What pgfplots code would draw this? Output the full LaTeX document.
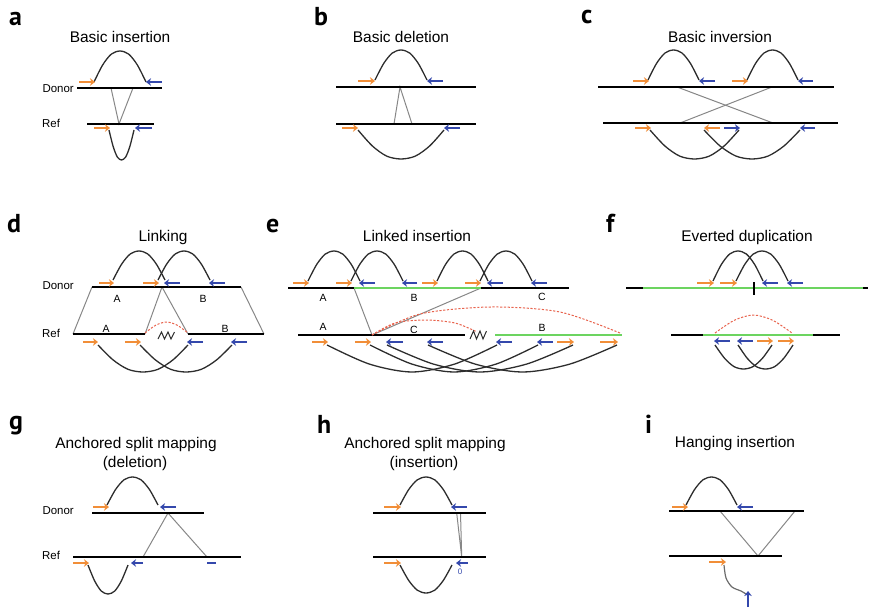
\documentclass[border=0pt]{standalone}
\usepackage{pgfplots}
\pgfplotsset{compat=1.18}
\usetikzlibrary{arrows.meta}
\usepackage{fontspec}
\setmainfont{Liberation Sans}
\newfontfamily\panelfont{PT Sans}
\definecolor{orgC}{RGB}{241,142,56}
\definecolor{bluC}{RGB}{52,72,172}
\definecolor{grayC}{RGB}{135,135,135}
\definecolor{arcC}{RGB}{45,45,45}
\definecolor{grnC}{RGB}{108,212,96}
\definecolor{redC}{RGB}{232,100,78}
\pgfplotsset{
 dna/.style={black, line width=2.6bp},
 grn/.style={grnC, line width=2.6bp},
 arc/.style={arcC, line width=1.3bp, smooth},
 gl/.style={grayC, line width=1bp},
 oa/.style={orgC, line width=2bp, -{Stealth[length=5bp,width=7.5bp,inset=1.5bp]}},
 ba/.style={bluC, line width=2bp, -{Stealth[length=5bp,width=7.5bp,inset=1.5bp]}},
 rd/.style={redC, line width=1bp, smooth, dash pattern=on 2.2bp off 1.6bp},
 zz/.style={arcC, line width=1bp},
}
\newcommand{\ttl}[3]{\node[font=\fontsize{15.5}{18}\selectfont, anchor=base] at (axis cs:#1,#2) {#3};}
\newcommand{\pl}[3]{\node[font=\panelfont\bfseries\fontsize{26}{28}\selectfont, anchor=base west, inner sep=0pt] at (axis cs:#1,#2) {#3};}
\newcommand{\lab}[3]{\node[font=\fontsize{10.5}{12}\selectfont, anchor=base, inner sep=0pt] at (axis cs:#1,#2) {#3};}
\begin{document}
\begin{tikzpicture}
\begin{axis}[width=870bp, height=611bp, scale only axis, xmin=0, xmax=870, ymin=0, ymax=611, y dir=reverse, hide axis, clip=false]
\addplot[draw=none] coordinates {(0,0) (870,611)};
% ---------- panel letters
\pl{9}{26}{a}
\pl{314}{26}{b}
\pl{581}{24}{c}
\pl{7}{232}{d}
\pl{266}{232}{e}
\pl{606}{232}{f}
\pl{9}{429}{g}
\pl{317}{433}{h}
\pl{645}{433}{i}
% ---------- titles
\ttl{120}{43}{Basic insertion}
\ttl{401}{43}{Basic deletion}
\ttl{720}{43}{Basic inversion}
\ttl{163}{241}{Linking}
\ttl{417}{241}{Linked insertion}
\ttl{747}{241}{Everted duplication}
\ttl{136}{448}{Anchored split mapping}
\ttl{135}{467}{(deletion)}
\ttl{425}{448}{Anchored split mapping}
\ttl{424}{467}{(insertion)}
\ttl{735}{447}{Hanging insertion}
% ---------- Donor / Ref labels
\node[font=\fontsize{11.5}{13}\selectfont, anchor=base east, inner sep=0pt] at (axis cs:74,92) {Donor};
\node[font=\fontsize{11.5}{13}\selectfont, anchor=base west, inner sep=0pt] at (axis cs:42,127) {Ref};
\node[font=\fontsize{11.5}{13}\selectfont, anchor=base east, inner sep=0pt] at (axis cs:74,289) {Donor};
\node[font=\fontsize{11.5}{13}\selectfont, anchor=base west, inner sep=0pt] at (axis cs:42,337) {Ref};
\node[font=\fontsize{11.5}{13}\selectfont, anchor=base east, inner sep=0pt] at (axis cs:74,514) {Donor};
\node[font=\fontsize{11.5}{13}\selectfont, anchor=base west, inner sep=0pt] at (axis cs:42,559) {Ref};
% ================= panel a
\addplot[gl] coordinates {(111,88) (119,124) (133,88)};
\addplot[dna] coordinates {(77,88) (162,88)};
\addplot[dna] coordinates {(87,124) (154,124)};
\addplot[arc] coordinates {(94,82) (102.67,64.95) (111.33,54.1) (120,51) (128.67,54.1) (137.33,64.95) (146,82)};
\addplot[arc] coordinates {(109,130) (113.17,146.5) (117.33,157) (121.5,160) (125.67,157) (129.83,146.5) (134,130)};
\addplot[oa] coordinates {(79,82) (95,82)};
\addplot[ba] coordinates {(162,82) (146,82)};
\addplot[oa] coordinates {(94,128) (110,128)};
\addplot[ba] coordinates {(152,128) (135,128)};
% ================= panel b
\addplot[gl] coordinates {(394,124) (400,87) (412,124)};
\addplot[dna] coordinates {(336,87) (476,87)};
\addplot[dna] coordinates {(336,124) (476,124)};
\addplot[arc] coordinates {(375,80) (383.67,63.5) (392.33,53) (401,50) (409.67,53) (418.33,63.5) (427,80)};
\addplot[arc] coordinates {(358,130) (372.33,145.95) (386.67,156.1) (401,159) (415.33,156.1) (429.67,145.95) (444,130)};
\addplot[oa] coordinates {(358,81) (375,81)};
\addplot[ba] coordinates {(443,81) (427,81)};
\addplot[oa] coordinates {(342,128) (358,128)};
\addplot[ba] coordinates {(460,128) (444,128)};
% ================= panel c
\addplot[gl] coordinates {(677,87) (773,123)};
\addplot[gl] coordinates {(772,87) (680,123)};
\addplot[dna] coordinates {(598,87) (834,87)};
\addplot[dna] coordinates {(603,123) (838,123)};
\addplot[arc] coordinates {(648,80) (656.5,63.5) (665,53) (673.5,50) (682,53) (690.5,63.5) (699,80)};
\addplot[arc] coordinates {(747,80) (755.5,63.5) (764,53) (772.5,50) (781,53) (789.5,63.5) (798,80)};
\addplot[arc] coordinates {(650,130) (664.83,145.95) (679.67,156.1) (694.5,159) (709.33,156.1) (724.17,145.95) (739,130)};
\addplot[arc] coordinates {(704,130) (720,145.95) (736,156.1) (752,159) (768,156.1) (784,145.95) (800,130)};
\addplot[oa] coordinates {(633,81) (649,81)};
\addplot[ba] coordinates {(715,81) (699,81)};
\addplot[oa] coordinates {(732,81) (748,81)};
\addplot[ba] coordinates {(813,81) (798,81)};
\addplot[oa] coordinates {(635,128) (651,128)};
\addplot[oa] coordinates {(720,128) (704,128)};
\addplot[ba] coordinates {(724,128) (740,128)};
\addplot[ba] coordinates {(815,128) (800,128)};
% ================= panel d
\addplot[gl] coordinates {(92,287) (73,334)};
\addplot[gl] coordinates {(145,334) (162,287) (188,334)};
\addplot[gl] coordinates {(241,287) (264,334)};
\addplot[dna] coordinates {(92,287) (241,287)};
\addplot[dna] coordinates {(73,334) (145,334)};
\addplot[dna] coordinates {(188,334) (264,334)};
\addplot[rd] coordinates {(145,333) (155.75,325.2) (166.5,322) (177.25,325.2) (188,333)};
\addplot[zz] coordinates {(158,339) (161.5,332) (164.5,339) (168,332) (171,339) (174.5,332)};
\addplot[arc] coordinates {(113,280) (121.67,264.05) (130.33,253.9) (139,251) (147.67,253.9) (156.33,264.05) (165,280)};
\addplot[arc] coordinates {(158,280) (166.67,264.05) (175.33,253.9) (184,251) (192.67,253.9) (201.33,264.05) (210,280)};
\addplot[arc] coordinates {(98,345) (113,359.85) (128,369.3) (143,372) (158,369.3) (173,359.85) (188,345)};
\addplot[arc] coordinates {(140,345) (155.33,359.85) (170.67,369.3) (186,372) (201.33,369.3) (216.67,359.85) (232,345)};
\addplot[oa] coordinates {(99,283) (114,283)};
\addplot[oa] coordinates {(143,283) (159,283)};
\addplot[ba] coordinates {(180,283) (164,283)};
\addplot[ba] coordinates {(225,283) (209,283)};
\addplot[oa] coordinates {(83,342) (98,342)};
\addplot[oa] coordinates {(125,342) (141,342)};
\addplot[ba] coordinates {(203,342) (187,342)};
\addplot[ba] coordinates {(247,342) (231,342)};
\lab{117}{302}{A}
\lab{203}{302}{B}
\lab{106}{332}{A}
\lab{225}{332}{B}
% ================= panel e
\addplot[gl] coordinates {(354,288) (372,335) (481,288)};
\addplot[dna] coordinates {(288,288) (569,288)};
\addplot[grn] coordinates {(354,288) (481,288)};
\addplot[dna] coordinates {(298,335) (465,335)};
\addplot[grn] coordinates {(495,335) (622,335)};
\addplot[rd] coordinates {(372,335) (395,323) (425,320) (455,323) (477,332)};
\addplot[rd] coordinates {(372,335) (420,314) (490,307) (560,312) (620,333)};
\addplot[zz] coordinates {(470,339) (473.5,331) (476.5,339) (480,331) (483,339) (486.5,331)};
\addplot[arc] coordinates {(308,281) (316.67,264.5) (325.33,254) (334,251) (342.67,254) (351.33,264.5) (360,281)};
\addplot[arc] coordinates {(351,281) (359.67,264.5) (368.33,254) (377,251) (385.67,254) (394.33,264.5) (403,281)};
\addplot[arc] coordinates {(437,281) (445.5,264.5) (454,254) (462.5,251) (471,254) (479.5,264.5) (488,281)};
\addplot[arc] coordinates {(480,281) (488.67,264.5) (497.33,254) (506,251) (514.67,254) (523.33,264.5) (532,281)};
\addplot[arc] coordinates {(327,345) (369.5,364.1) (412,372) (454.5,364.1) (497,345)};
\addplot[arc] coordinates {(370,345) (412,364.1) (454,372) (496,364.1) (538,345)};
\addplot[arc] coordinates {(387,345) (433.5,364.1) (480,372) (526.5,364.1) (573,345)};
\addplot[arc] coordinates {(428,345) (475.25,364.1) (522.5,372) (569.75,364.1) (617,345)};
\addplot[oa] coordinates {(293,283) (309,283)};
\addplot[oa] coordinates {(336,283) (352,283)};
\addplot[oa] coordinates {(422,283) (438,283)};
\addplot[oa] coordinates {(465,283) (481,283)};
\addplot[ba] coordinates {(375,283) (359,283)};
\addplot[ba] coordinates {(417,283) (402,283)};
\addplot[ba] coordinates {(503,283) (487,283)};
\addplot[ba] coordinates {(547,283) (531,283)};
\addplot[oa] coordinates {(312,342) (328,342)};
\addplot[oa] coordinates {(355,342) (371,342)};
\addplot[oa] coordinates {(557,342) (574,342)};
\addplot[oa] coordinates {(600,342) (618,342)};
\addplot[ba] coordinates {(403,342) (386,342)};
\addplot[ba] coordinates {(443,342) (427,342)};
\addplot[ba] coordinates {(512,342) (496,342)};
\addplot[ba] coordinates {(553,342) (537,342)};
\lab{323}{301}{A}
\lab{414}{301}{B}
\lab{542}{300}{C}
\lab{323}{330}{A}
\lab{414}{333}{C}
\lab{542}{331}{B}
% ================= panel f
\addplot[dna] coordinates {(626,288) (868,288)};
\addplot[grn] coordinates {(643,288) (863,288)};
\addplot[black, line width=1.4bp] coordinates {(754,282) (754,295)};
\addplot[dna] coordinates {(671,335) (840,335)};
\addplot[grn] coordinates {(703,335) (813,335)};
\addplot[rd] coordinates {(715,333) (734.25,320.3) (753.5,315) (772.75,320.3) (792,333)};
\addplot[arc] coordinates {(713,281) (721.33,264.5) (729.67,254) (738,251) (746.33,254) (754.67,264.5) (763,281)};
\addplot[arc] coordinates {(736,281) (744.67,264.5) (753.33,254) (762,251) (770.67,254) (779.33,264.5) (788,281)};
\addplot[arc] coordinates {(715,345) (724.5,358.2) (734,366.6) (743.5,369) (753,366.6) (762.5,358.2) (772,345)};
\addplot[arc] coordinates {(738,345) (747.17,358.2) (756.33,366.6) (765.5,369) (774.67,366.6) (783.83,358.2) (793,345)};
\addplot[oa] coordinates {(697,283) (714,283)};
\addplot[oa] coordinates {(720,283) (737,283)};
\addplot[ba] coordinates {(778,283) (762,283)};
\addplot[ba] coordinates {(803,283) (787,283)};
\addplot[ba] coordinates {(730,341) (714,341)};
\addplot[ba] coordinates {(753,341) (737,341)};
\addplot[oa] coordinates {(757,341) (773,341)};
\addplot[oa] coordinates {(778,341) (794,341)};
% ================= panel g
\addplot[gl] coordinates {(143,557) (168,513) (207,557)};
\addplot[dna] coordinates {(92,513) (204,513)};
\addplot[dna] coordinates {(73,557) (241,557)};
\addplot[arc] coordinates {(107,505) (115.5,489.6) (124,479.8) (132.5,477) (141,479.8) (149.5,489.6) (158,505)};
\addplot[arc] coordinates {(88,565) (94.67,580.95) (101.33,591.1) (108,594) (114.67,591.1) (121.33,580.95) (128,565)};
\addplot[oa] coordinates {(93,507) (109,507)};
\addplot[ba] coordinates {(176,507) (160,507)};
\addplot[oa] coordinates {(73,563) (89,563)};
\addplot[ba] coordinates {(143,563) (131,563)};
\addplot[bluC, line width=2bp] coordinates {(207,563) (216,563)};
% ================= panel h
\addplot[gl] coordinates {(456.7,513) (461.7,557) (460.5,513)};
\addplot[dna] coordinates {(373,513) (486,513)};
\addplot[dna] coordinates {(373,557) (486,557)};
\addplot[arc] coordinates {(400,505) (408.67,489.6) (417.33,479.8) (426,477) (434.67,479.8) (443.33,489.6) (452,505)};
\addplot[arc] coordinates {(400,565) (408.67,580.4) (417.33,590.2) (426,593) (434.67,590.2) (443.33,580.4) (452,565)};
\addplot[oa] coordinates {(384,507) (401,507)};
\addplot[ba] coordinates {(467,507) (451,507)};
\addplot[oa] coordinates {(384,563) (401,563)};
\addplot[ba] coordinates {(468,563) (456,563)};
\node[font=\fontsize{8}{9}\selectfont, text=bluC, anchor=base, inner sep=0pt] at (axis cs:460,574) {0};
% ================= panel i
\addplot[gl] coordinates {(720,511) (758,556) (795,511)};
\addplot[dna] coordinates {(669,511) (804,511)};
\addplot[dna] coordinates {(669,556) (782,556)};
\addplot[arc] coordinates {(686,505) (694.5,489.6) (703,479.8) (711.5,477) (720,479.8) (728.5,489.6) (737,505)};
\addplot[oa] coordinates {(672,507) (688,507)};
\addplot[ba] coordinates {(753,507) (737,507)};
\addplot[oa] coordinates {(709,562) (726,562)};
\addplot[grayC!80!black, line width=1.2bp, smooth] coordinates {(724,565) (726,578) (732,587) (741,591) (746,594)};
\addplot[ba] coordinates {(748,607) (748,591)};
\end{axis}
\end{tikzpicture}
\end{document}
